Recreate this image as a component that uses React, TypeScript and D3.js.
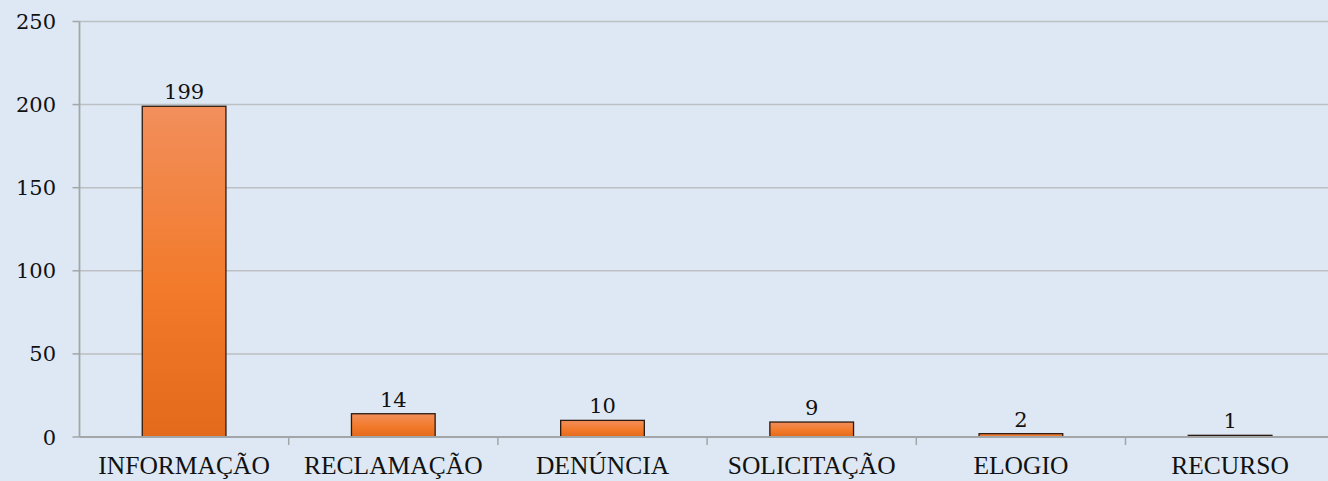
import * as d3 from 'd3';
import React from 'react';

const categories = ['INFORMAÇÃO', 'RECLAMAÇÃO', 'DENÚNCIA', 'SOLICITAÇÃO', 'ELOGIO', 'RECURSO'];
const values = [199, 14, 10, 9, 2, 1];
const yTicks = [0, 50, 100, 150, 200, 250];

function App() {
  const width = 1328, height = 481;
  const left = 79.5, top = 21.5, bottom = 437;
  const step = 209.2;

  const x = d3.scaleBand<string>()
    .domain(categories)
    .range([left, left + step * categories.length])
    .paddingInner(0.6)
    .paddingOuter(0.3);
  const y = d3.scaleLinear().domain([0, 250]).range([bottom, top]);

  const numFont = '"DejaVu Serif", Georgia, serif';
  const catFont = '"Liberation Serif", "Times New Roman", serif';

  return (
    <svg width={width} height={height} style={{ position: 'absolute', left: 0, top: 0, display: 'block' }}>
      <defs>
        <linearGradient id="barGrad" x1="0" y1="0" x2="0" y2="1">
          <stop offset="0%" stopColor="#f28f5c" />
          <stop offset="55%" stopColor="#f27a2a" />
          <stop offset="100%" stopColor="#e3691b" />
        </linearGradient>
      </defs>
      <rect x={0} y={0} width={width} height={height} fill="#dde8f4" />
      {yTicks.map(t => (
        <g key={t}>
          {t > 0 && (
            <line x1={left} x2={width} y1={y(t)} y2={y(t)} stroke="#bdbfc2" strokeWidth={1.5} />
          )}
          <line x1={left - 7} x2={left} y1={y(t)} y2={y(t)} stroke="#a3a6a9" strokeWidth={1.5} />
          <text x={56} y={y(t)} dy="0.36em" textAnchor="end" fontFamily={numFont} fontSize={21} fill="#111">
            {t}
          </text>
        </g>
      ))}
      {categories.map((c, i) => {
        const v = values[i];
        const bx = x(c)!;
        const bw = x.bandwidth();
        const by = y(v);
        return (
          <g key={c}>
            <rect x={bx} y={by} width={bw} height={bottom - by} fill="url(#barGrad)" stroke="#2b1a10" strokeWidth={1.3} />
            <text x={bx + bw / 2} y={by - 7} textAnchor="middle" fontFamily={numFont} fontSize={21} fill="#111">
              {v}
            </text>
            <text x={bx + bw / 2} y={474} textAnchor="middle" fontFamily={catFont} fontSize={25.5} fill="#111">
              {c}
            </text>
          </g>
        );
      })}
      {categories.slice(1).map((c, i) => {
        const tx = left + step * (i + 1);
        return <line key={c} x1={tx} x2={tx} y1={bottom} y2={bottom + 8} stroke="#a3a6a9" strokeWidth={1.5} />;
      })}
      <line x1={left} x2={width} y1={bottom} y2={bottom} stroke="#a3a6a9" strokeWidth={1.8} />
      <line x1={left} x2={left} y1={top} y2={bottom} stroke="#a3a6a9" strokeWidth={1.8} />
    </svg>
  );
}

export default App;
